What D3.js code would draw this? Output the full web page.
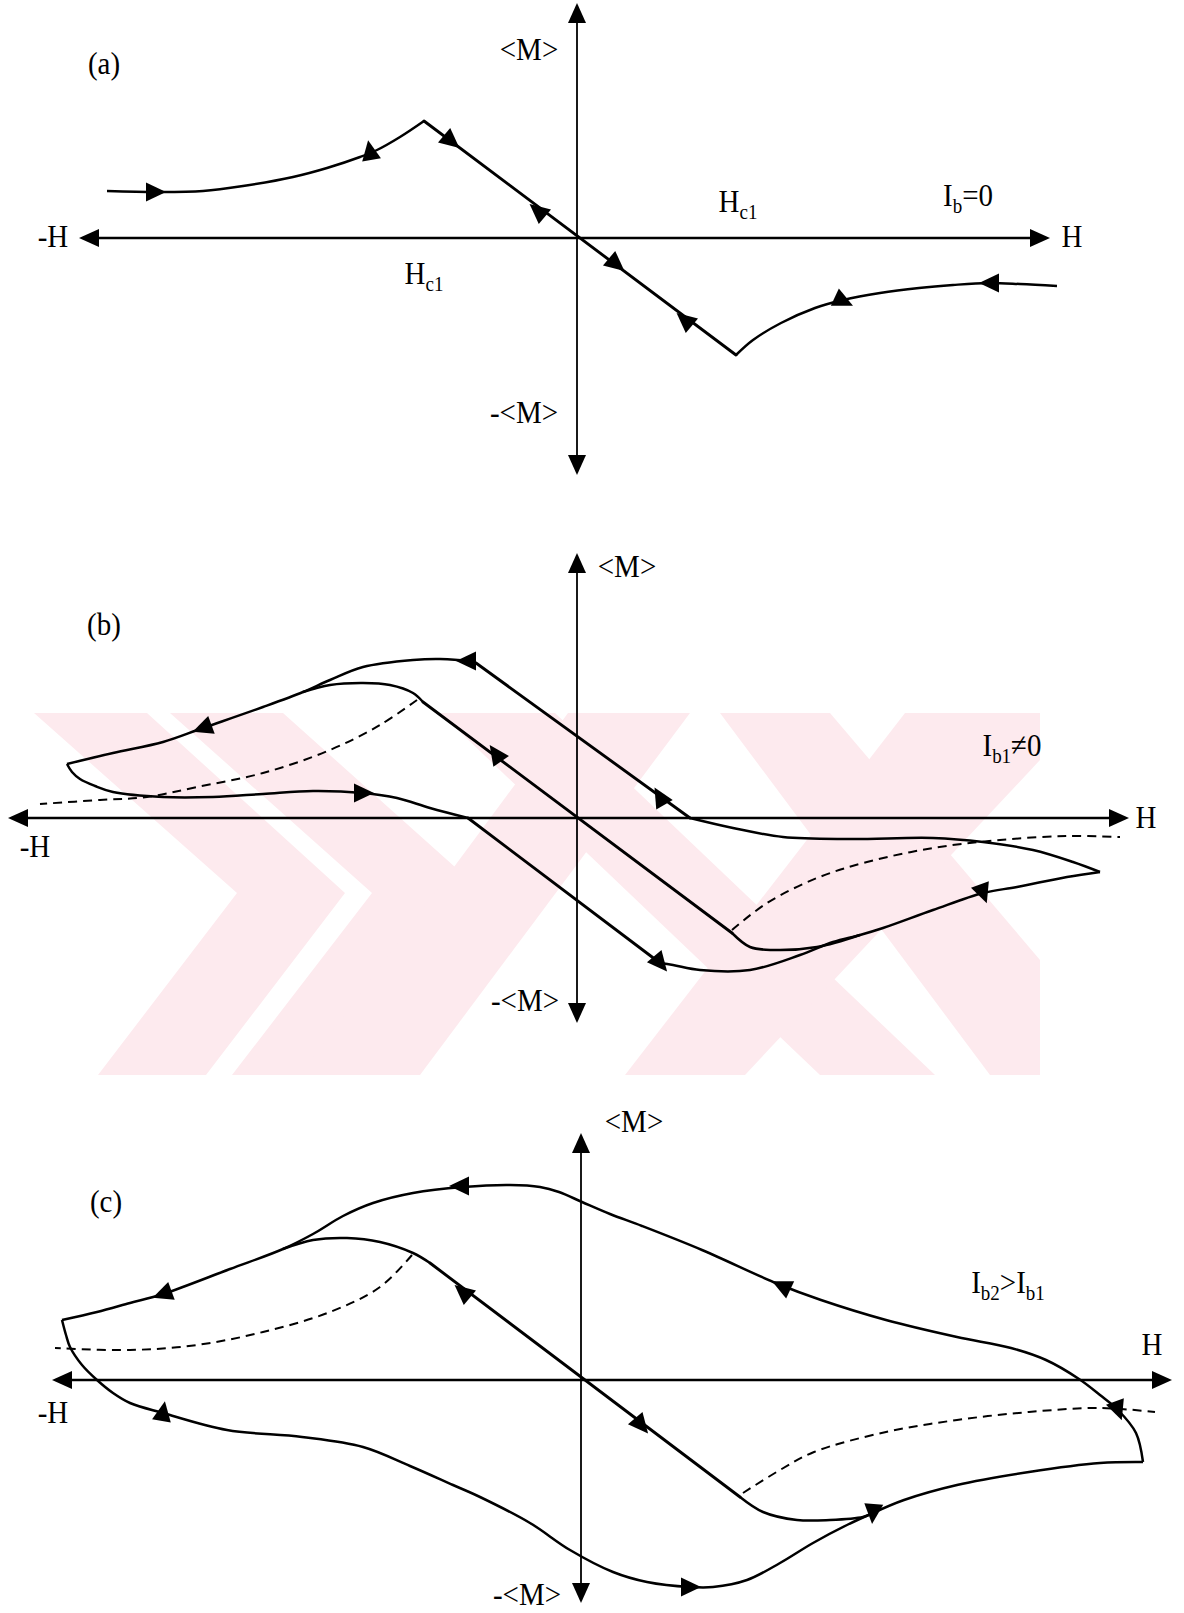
<!DOCTYPE html>
<html>
<head>
<meta charset="utf-8">
<script src="https://cdn.jsdelivr.net/npm/d3@7"></script>
<style>
  html, body { margin: 0; padding: 0; background: #fff; }
  svg { display: block; }
  text { font-family: "Liberation Serif", "Times New Roman", serif; fill: #000; }
</style>
</head>
<body>
<svg id="fig" width="1184" height="1613"></svg>
<script>
// Magnetisation <M> versus field H, in reduced units (1 unit = 100 px).
// Each branch is a list of [H, M] points; arrows are [H, M, direction in degrees].

// ---------- (a) Ib = 0 ----------
const aAxisH = [-4.98, 4.73];
const aAxisM = [-2.37, 2.35];
const aLeftBranch = [[-4.70,0.47],[-4.20,0.46],[-3.74,0.47],[-3.34,0.52],[-2.84,0.61],[-2.50,0.70],
  [-2.17,0.81],[-2.00,0.88],[-1.77,1.01],[-1.53,1.17]];
const aLinear = [[-1.53,1.17],[1.59,-1.17]];
const aRightBranch = [[1.59,-1.17],[1.76,-1.02],[2.04,-0.85],[2.38,-0.70],[2.66,-0.62],[3.03,-0.55],
  [3.42,-0.50],[3.76,-0.47],[4.11,-0.45],[4.43,-0.46],[4.80,-0.48]];
const aArrows = [[-4.22,0.46,0],[-2.07,0.87,-100],[-1.26,0.97,40],[-0.39,0.27,-140],
  [0.39,-0.26,40],[1.08,-0.82,-140],[2.66,-0.63,25],[4.13,-0.45,180]];

// ---------- (b) Ib1 != 0 ----------
const bAxisH = [-5.69, 5.52];
const bAxisM = [-2.05, 2.65];
const bOuterUpperLine = [[1.13,0.00],[-1.01,1.55]];
const bOuterTop = [[-1.01,1.55],[-1.10,1.57],[-1.37,1.59],[-1.64,1.58],[-2.14,1.51],[-2.47,1.38],
  [-2.74,1.26],[-3.14,1.11],[-3.74,0.90],[-4.14,0.76],[-4.64,0.65],[-5.10,0.54]];
const bOuterLeftReturn = [[-5.10,0.54],[-5.05,0.46],[-4.97,0.39],[-4.82,0.32],[-4.64,0.26],[-4.14,0.21],
  [-3.64,0.21],[-3.14,0.24],[-2.64,0.27],[-2.14,0.25],[-1.80,0.20],[-1.47,0.10],[-1.09,0.00]];
const bOuterLowerLine = [[-1.09,0.00],[0.83,-1.45]];
const bOuterBottom = [[0.83,-1.45],[0.96,-1.47],[1.23,-1.52],[1.73,-1.52],[2.23,-1.37],[2.56,-1.24],
  [2.83,-1.17],[3.06,-1.10],[3.56,-0.92],[4.06,-0.75],[4.40,-0.69],[4.90,-0.59],[5.23,-0.54]];
const bOuterRightReturn = [[5.23,-0.54],[4.96,-0.44],[4.56,-0.32],[4.06,-0.24],[3.56,-0.20],[2.73,-0.21],
  [2.06,-0.19],[1.56,-0.10],[1.13,0.00]];
const bInnerLine = [[-1.54,1.16],[1.55,-1.15]];
const bInnerTop = [[-2.74,1.26],[-2.47,1.33],[-2.14,1.35],[-1.87,1.33],[-1.64,1.25],[-1.54,1.16]];
const bInnerBottom = [[1.55,-1.15],[1.73,-1.29],[1.96,-1.32],[2.40,-1.29],[2.83,-1.17]];
const bVirginLeft = [[-1.60,1.18],[-1.97,0.93],[-2.47,0.68],[-3.14,0.45],[-3.80,0.31],[-4.30,0.21],
  [-4.77,0.18],[-5.37,0.14]];
const bVirginRight = [[1.55,-1.12],[1.90,-0.85],[2.40,-0.60],[2.90,-0.44],[3.56,-0.30],[4.23,-0.22],
  [4.90,-0.18],[5.43,-0.19]];
const bArrows = [[-1.10,1.57,180],[-3.74,0.90,160],[-2.14,0.25,0],[-0.81,0.64,-125],
  [0.83,0.21,-120],[0.83,-1.45,50],[4.06,-0.75,70]];

// ---------- (c) Ib2 > Ib1 ----------
const cAxisH = [-5.29, 5.91];
const cAxisM = [-2.23, 2.47];
const cOuterTop = [[-5.19,0.60],[-4.84,0.68],[-4.51,0.77],[-4.18,0.86],[-3.51,1.11],[-2.98,1.31],
  [-2.68,1.46],[-2.38,1.64],[-2.08,1.77],[-1.68,1.87],[-1.18,1.93],[-0.71,1.95],[-0.41,1.93],[-0.22,1.88],
  [0.01,1.78],[0.29,1.66],[0.61,1.54],[1.21,1.30],[1.97,0.96],[2.40,0.80],[3.05,0.60],[3.76,0.43],
  [4.30,0.32],[4.65,0.20],[4.98,0.01],[5.19,-0.15],[5.37,-0.30],[5.55,-0.53],[5.62,-0.82]];
const cOuterBottom = [[-5.19,0.60],[-5.15,0.45],[-5.11,0.33],[-4.99,0.15],[-4.84,0.00],[-4.68,-0.13],
  [-4.51,-0.23],[-4.18,-0.33],[-3.54,-0.50],[-2.79,-0.57],[-2.18,-0.67],[-1.71,-0.86],[-1.28,-1.05],
  [-1.01,-1.17],[-0.51,-1.43],[-0.11,-1.70],[0.32,-1.92],[0.66,-2.02],[1.09,-2.07],[1.32,-2.07],
  [1.66,-2.00],[1.99,-1.83],[2.32,-1.63],[2.66,-1.45],[2.92,-1.33]];
const cOuterRight = [[2.92,-1.33],[3.23,-1.20],[3.76,-1.05],[4.48,-0.92],[5.19,-0.83],[5.62,-0.82]];
const cInnerLine = [[-1.51,1.17],[1.59,-1.17]];
const cInnerTop = [[-2.98,1.31],[-2.68,1.40],[-2.34,1.42],[-2.01,1.38],[-1.68,1.27],[-1.51,1.17]];
const cInnerBottom = [[1.59,-1.17],[1.82,-1.32],[2.16,-1.40],[2.49,-1.40],[2.82,-1.37],[2.92,-1.33]];
const cVirginLeft = [[-1.69,1.25],[-2.01,0.93],[-2.51,0.68],[-3.18,0.48],[-3.84,0.35],[-4.51,0.30],[-5.26,0.32]];
const cVirginRight = [[1.62,-1.13],[1.99,-0.90],[2.33,-0.72],[3.05,-0.52],[3.76,-0.40],[4.48,-0.32],
  [5.19,-0.28],[5.74,-0.32]];
const cArrows = [[-1.21,1.94,180],[-4.18,0.86,160],[-1.18,0.88,-140],[0.60,-0.45,50],[-4.18,-0.32,-80],
  [1.09,-2.07,0],[2.92,-1.33,95],[5.37,-0.30,70],[2.01,0.94,-155]];

// ---------- drawing ----------
const UNIT = 100;
const svg = d3.select('#fig');

// pale background emblem behind the middle panel
const emblem = svg.append('g').attr('fill', '#fdeaee');
emblem.append('clipPath').attr('id', 'emblemClip')
  .append('rect').attr('x', 32).attr('y', 713).attr('width', 1008).attr('height', 362);
const eg = emblem.append('g').attr('clip-path', 'url(#emblemClip)');
[
  [[34,713],[147,713],[345,893],[206,1075],[98,1075],[237,893]],
  [[170,713],[283,713],[484,893],[345,1075],[232,1075],[372,893]],
  [[440,713],[555,713],[935,1075],[820,1075]],
  [[568,713],[690,713],[420,1075],[300,1075]],
  [[720,713],[830,713],[1040,960],[1040,1075],[990,1075]],
  [[905,713],[1040,713],[1040,760],[745,1075],[625,1075]]
].forEach(poly => eg.append('polygon').attr('points', poly.map(p => p.join(',')).join(' ')));

function drawPanel(p) {
  const g = svg.append('g');
  const x = d3.scaleLinear().domain([0, 1]).range([p.ox, p.ox + UNIT]);
  const y = d3.scaleLinear().domain([0, 1]).range([p.oy, p.oy - UNIT]);
  const smooth = d3.line().x(d => x(d[0])).y(d => y(d[1])).curve(d3.curveCatmullRom.alpha(0.5));
  const straight = d3.line().x(d => x(d[0])).y(d => y(d[1]));

  // axes with arrowheads at both ends
  const head = 'M0,0 L-20,-9 L-20,9 Z';
  g.append('line').attr('x1', x(p.axisH[0]) + 8).attr('x2', x(p.axisH[1]) - 8)
    .attr('y1', y(0)).attr('y2', y(0)).attr('stroke', '#000').attr('stroke-width', 2.6);
  g.append('line').attr('x1', x(0)).attr('x2', x(0))
    .attr('y1', y(p.axisM[1]) + 8).attr('y2', y(p.axisM[0]) - 8)
    .attr('stroke', '#000').attr('stroke-width', 1.8);
  [[x(p.axisH[1]), y(0), 0], [x(p.axisH[0]), y(0), 180],
   [x(0), y(p.axisM[1]), -90], [x(0), y(p.axisM[0]), 90]].forEach(([hx, hy, r]) =>
    g.append('path').attr('d', head).attr('fill', '#000')
      .attr('transform', `translate(${hx},${hy}) rotate(${r})`));

  p.dashed.forEach(c => g.append('path').attr('d', smooth(c)).attr('fill', 'none')
    .attr('stroke', '#000').attr('stroke-width', 2).attr('stroke-dasharray', '9,6'));
  p.curves.forEach(c => g.append('path').attr('d', smooth(c)).attr('fill', 'none')
    .attr('stroke', '#000').attr('stroke-width', 2.5).attr('stroke-linejoin', 'round'));
  p.lines.forEach(c => g.append('path').attr('d', straight(c)).attr('fill', 'none')
    .attr('stroke', '#000').attr('stroke-width', 2.9).attr('stroke-linecap', 'round'));

  const tri = 'M11,0 L-9,-9.5 L-9,9.5 Z';
  p.arrows.forEach(a => g.append('path').attr('d', tri).attr('fill', '#000')
    .attr('transform', `translate(${x(a[0])},${y(a[1])}) rotate(${a[2]})`));

  // labels, slightly tall serif lettering
  p.labels.forEach(l => {
    const t = g.append('text').attr('transform', `translate(${l.x},${l.y}) scale(1,1.12)`)
      .attr('text-anchor', 'middle').attr('font-size', 29);
    let shifted = false;
    l.parts.forEach(part => {
      const isSub = Array.isArray(part);
      const s = t.append('tspan').text(isSub ? part[0] : part);
      if (isSub) { s.attr('font-size', 19).attr('dy', shifted ? 0 : 6); shifted = true; }
      else if (shifted) { s.attr('dy', -6); shifted = false; }
    });
  });
}

drawPanel({
  ox: 577, oy: 238, axisH: aAxisH, axisM: aAxisM,
  curves: [aLeftBranch, aRightBranch], lines: [aLinear], dashed: [], arrows: aArrows,
  labels: [
    { x: 104, y: 74, parts: ['(a)'] },
    { x: 529, y: 60, parts: ['<M>'] },
    { x: 524, y: 423, parts: ['-<M>'] },
    { x: 53, y: 247, parts: ['-H'] },
    { x: 1072, y: 247, parts: ['H'] },
    { x: 738, y: 212, parts: ['H', ['c1']] },
    { x: 424, y: 284, parts: ['H', ['c1']] },
    { x: 968, y: 206, parts: ['I', ['b'], '=0'] }
  ]
});

drawPanel({
  ox: 577, oy: 818, axisH: bAxisH, axisM: bAxisM,
  curves: [bOuterTop, bOuterLeftReturn, bOuterBottom, bOuterRightReturn, bInnerTop, bInnerBottom],
  lines: [bOuterUpperLine, bOuterLowerLine, bInnerLine],
  dashed: [bVirginLeft, bVirginRight], arrows: bArrows,
  labels: [
    { x: 104, y: 635, parts: ['(b)'] },
    { x: 627, y: 577, parts: ['<M>'] },
    { x: 525, y: 1011, parts: ['-<M>'] },
    { x: 35, y: 857, parts: ['-H'] },
    { x: 1146, y: 828, parts: ['H'] },
    { x: 1012, y: 756, parts: ['I', ['b1'], '≠0'] }
  ]
});

drawPanel({
  ox: 581, oy: 1380, axisH: cAxisH, axisM: cAxisM,
  curves: [cOuterTop, cOuterBottom, cOuterRight, cInnerTop, cInnerBottom],
  lines: [cInnerLine],
  dashed: [cVirginLeft, cVirginRight], arrows: cArrows,
  labels: [
    { x: 106, y: 1212, parts: ['(c)'] },
    { x: 634, y: 1132, parts: ['<M>'] },
    { x: 527, y: 1605, parts: ['-<M>'] },
    { x: 53, y: 1423, parts: ['-H'] },
    { x: 1152, y: 1355, parts: ['H'] },
    { x: 1008, y: 1293, parts: ['I', ['b2'], '>I', ['b1']] }
  ]
});
</script>
</body>
</html>
